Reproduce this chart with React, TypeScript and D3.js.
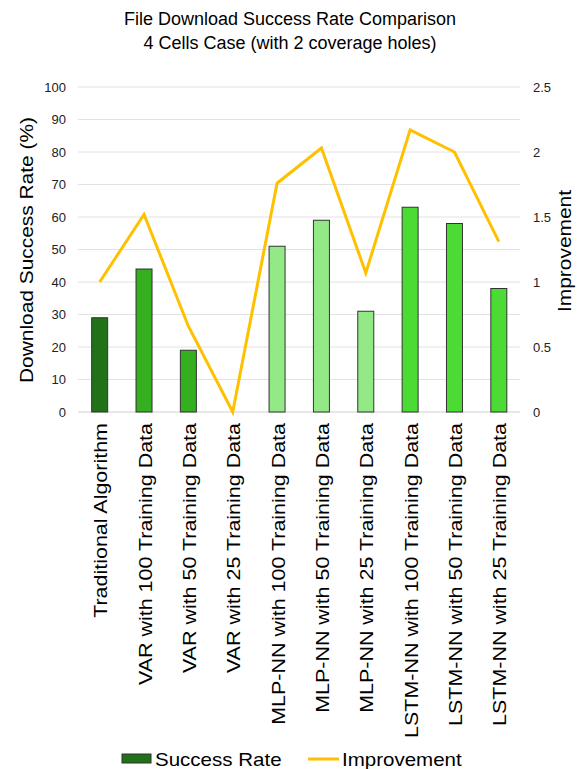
import React from "react";
import * as d3 from "d3";

const categories = [
  "Traditional Algorithm",
  "VAR with 100 Training Data",
  "VAR with 50 Training Data",
  "VAR with 25 Training Data",
  "MLP-NN with 100 Training Data",
  "MLP-NN with 50 Training Data",
  "MLP-NN with 25 Training Data",
  "LSTM-NN with 100 Training Data",
  "LSTM-NN with 50 Training Data",
  "LSTM-NN with 25 Training Data",
];
const successRate = [29, 44, 19, 0, 51, 59, 31, 63, 58, 38];
const improvement = [1.0, 1.52, 0.66, 0, 1.76, 2.03, 1.07, 2.17, 2.0, 1.31];
const barColors = [
  "#217117", "#33AF1F", "#33AF1F", "#33AF1F",
  "#93E986", "#93E986", "#93E986",
  "#4CDB34", "#4CDB34", "#4CDB34",
];
const leftTicks = [0, 10, 20, 30, 40, 50, 60, 70, 80, 90, 100];
const rightTicks = [0, 0.5, 1, 1.5, 2, 2.5];

const W = 579;
const H = 769;
const M = { left: 77.5, right: 521, top: 87, bottom: 412 };
const FONT = "Liberation Sans, Arial, sans-serif";
const SX = 1.1;
const SXL = 1.13;

export default function App() {
  const x = d3.scaleBand().domain(categories).range([M.left, M.right]).padding(0);
  const yL = d3.scaleLinear().domain([0, 100]).range([M.bottom, M.top]);
  const yR = d3.scaleLinear().domain([0, 2.5]).range([M.bottom, M.top]);
  const bw = 16;
  const cx = (c: string) => (x(c) as number) + x.bandwidth() / 2;
  const line = d3
    .line<number>()
    .x((_, i) => cx(categories[i]))
    .y((d) => yR(d));

  return (
    <svg width={W} height={H} style={{ position: "absolute", left: 0, top: 0, fontFamily: FONT }}>
      <rect width={W} height={H} fill="#fff" />
      <text x={290} y={25} textAnchor="middle" fontSize={18} fill="#000">
        File Download Success Rate Comparison
      </text>
      <text x={290} y={49} textAnchor="middle" fontSize={18} fill="#000">
        4 Cells Case (with 2 coverage holes)
      </text>
      {leftTicks.map((t) => (
        <g key={t}>
          <line x1={78} x2={520} y1={yL(t)} y2={yL(t)} stroke={t === 0 ? "#d0d0d0" : "#e2e2e2"} strokeWidth={1} />
          <text x={66} y={yL(t)} dy="0.35em" textAnchor="end" fontSize={13} fill="#222">
            {t}
          </text>
        </g>
      ))}
      {rightTicks.map((t) => (
        <text key={t} x={533} y={yR(t)} dy="0.35em" textAnchor="start" fontSize={13} fill="#222">
          {t}
        </text>
      ))}
      <text transform={`translate(33,250) rotate(-90) scale(${SX},1)`} textAnchor="middle" fontSize={19} fill="#000">
        Download Success Rate (%)
      </text>
      <text transform={`translate(571,251) rotate(-90) scale(${SX},1)`} textAnchor="middle" fontSize={19} fill="#000">
        Improvement
      </text>
      {successRate.map((v, i) => (
        <rect
          key={i}
          x={cx(categories[i]) - bw / 2}
          y={yL(v)}
          width={bw}
          height={M.bottom - yL(v)}
          fill={barColors[i]}
          stroke="#333"
          strokeWidth={1}
        />
      ))}
      <path d={line(improvement) || ""} fill="none" stroke="#FFC000" strokeWidth={3} strokeLinejoin="miter" />
      {categories.map((c) => (
        <text
          key={c}
          transform={`translate(${cx(c) + 7.5},${423}) rotate(-90) scale(${SXL},1)`}
          textAnchor="end"
          fontSize={19}
          fill="#000"
        >
          {c}
        </text>
      ))}
      <rect x={122} y={754} width={29} height={9} fill="#217117" stroke="#333" strokeWidth={1} />
      <text transform={`translate(155,766) scale(1.14,1)`} fontSize={18} fill="#000">Success Rate</text>
      <line x1={308} x2={339} y1={759} y2={759} stroke="#FFC000" strokeWidth={3} />
      <text transform={`translate(342,766) scale(1.14,1)`} fontSize={18} fill="#000">Improvement</text>
    </svg>
  );
}
